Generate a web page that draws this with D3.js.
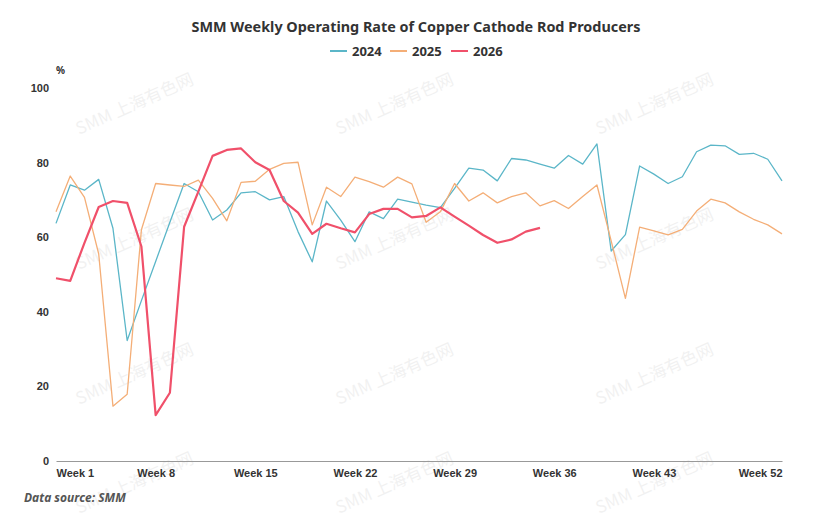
<!DOCTYPE html>
<html>
<head>
<meta charset="utf-8">
<script src="https://cdn.jsdelivr.net/npm/d3@7"></script>
<style>
  body { margin: 0; background: #fff; }
  svg { display: block; font-family: "Noto Sans", "Open Sans", sans-serif; }
  .axis-text { font-size: 11px; font-weight: bold; fill: #333; }
</style>
</head>
<body>
<svg id="chart" width="831" height="522"></svg>
<script>

////////////////////////// DATA //////////////////////////

const weeks = d3.range(1, 53)
const tickWeeks = [1, 8, 15, 22, 29, 36, 43, 52]
const yTicks = [0, 20, 40, 60, 80, 100]
const seriesNames = ['2024', '2025', '2026']

const values2024 = [63.7, 74, 72.6, 75.5, 62.4, 32.3, 43, 53.5, 64, 74.4,
  72.2, 64.6, 67.3, 71.9, 72.2, 70, 70.9, 61.5, 53.4, 69.7,
  64.6, 58.8, 66.8, 65, 70.2, 69.4, 68.6, 67.9, 73.1, 78.5,
  78, 75.1, 81.1, 80.7, 79.6, 78.5, 81.9, 79.6, 85, 56.3,
  60.7, 79.1, 76.9, 74.4, 76.2, 82.9, 84.7, 84.5, 82.2, 82.5,
  80.9, 75.1]

const values2025 = [66.8, 76.4, 70.7, 55.5, 14.7, 17.9, 62, 74.4, 74, 73.6,
  75.3, 70.4, 64.4, 74.7, 75, 78.2, 79.8, 80.1, 63.3, 73.4,
  70.9, 76.1, 74.9, 73.4, 76.1, 74.3, 64, 66.8, 74.4, 69.7,
  71.9, 69.2, 70.9, 71.9, 68.4, 69.8, 67.7, 70.9, 74, 59,
  43.6, 62.7, 61.7, 60.6, 62.1, 67, 70.2, 69.2, 66.8, 64.8,
  63.3, 60.9]

const values2026 = [49, 48.3, 58.5, 68.1, 69.7, 69.2, 57.5, 12.3, 18.3, 62.8,
  72.2, 81.8, 83.4, 83.8, 80.1, 78, 69.7, 66.6, 60.9, 63.6,
  62.4, 61.3, 66.2, 67.6, 67.6, 65.3, 65.7, 68, 65.5, 63.1,
  60.6, 58.5, 59.4, 61.5, 62.5]

const colors = { '2024': '#5bb6c8', '2025': '#f4ae77', '2026': '#f0506a' }
const strokeWidths = { '2024': 1.3, '2025': 1.3, '2026': 2.2 }

const series = [
  { name: '2024', values: values2024 },
  { name: '2025', values: values2025 },
  { name: '2026', values: values2026 }
]


////////////////////////// SETUP //////////////////////////

const svg = d3.select('#chart')
const plotLeft = 56, plotRight = 782, plotTop = 88, plotBottom = 461

const xScale = d3.scalePoint().domain(weeks).range([plotLeft, plotRight])
const yScale = d3.scaleLinear().domain([0, 100]).range([plotBottom, plotTop])

// watermark grid
const wmX = [135, 395, 655]
const wmY = [105, 240, 375, 484]
wmY.forEach((wy) => wmX.forEach((wx) => {
  svg.append('text')
    .attr('transform', `translate(${wx},${wy}) rotate(-24)`)
    .attr('text-anchor', 'middle')
    .attr('dominant-baseline', 'middle')
    .style('font-size', '17px')
    .style('font-family', '"Noto Sans CJK SC", "Noto Sans", sans-serif')
    .style('fill', '#000')
    .style('opacity', 0.05)
    .text('SMM 上海有色网')
}))


////////////////////////// TEXTS //////////////////////////

svg.append('text')
  .attr('x', 416)
  .attr('y', 32)
  .attr('text-anchor', 'middle')
  .style('font-size', '14.4px')
  .style('font-weight', 'bold')
  .style('fill', '#333')
  .text('SMM Weekly Operating Rate of Copper Cathode Rod Producers')

// legend
const legend = svg.append('g')
const legendX = [330, 390, 451]
seriesNames.forEach((name, i) => {
  const g = legend.append('g').attr('transform', `translate(${legendX[i]},51)`)
  g.append('line')
    .attr('x1', 0).attr('x2', 17)
    .attr('stroke', colors[name])
    .attr('stroke-width', 2)
  g.append('text')
    .attr('x', 22)
    .attr('dy', '0.35em')
    .style('font-size', '13px')
    .style('font-weight', 'bold')
    .style('fill', '#333')
    .text(name)
})

svg.append('text')
  .attr('x', 56).attr('y', 74)
  .style('font-size', '10px')
  .style('font-weight', 'bold')
  .style('fill', '#333')
  .text('%')

svg.append('text')
  .attr('x', 24).attr('y', 502)
  .style('font-size', '12px')
  .style('font-weight', 'bold')
  .style('font-style', 'italic')
  .style('fill', '#555')
  .text('Data source:  SMM')


////////////////////////// AXES //////////////////////////

// y axis labels, no line
const yAxis = svg.append('g')
  .attr('transform', `translate(${plotLeft - 7},0)`)
  .call(d3.axisLeft(yScale).tickValues(yTicks).tickSize(0).tickPadding(0))
yAxis.select('.domain').remove()
yAxis.selectAll('text').attr('class', 'axis-text').attr('x', 0)

// x axis
const xAxis = svg.append('g')
  .attr('transform', `translate(0,${plotBottom})`)
  .call(d3.axisBottom(xScale).tickValues(tickWeeks).tickSize(0).tickPadding(8)
    .tickFormat((d) => `Week ${d}`))
xAxis.select('.domain').attr('stroke', '#999')
xAxis.selectAll('text')
  .attr('class', 'axis-text')
  .attr('text-anchor', (d) => d === tickWeeks[0] ? 'start'
    : d === tickWeeks[tickWeeks.length - 1] ? 'end' : 'middle')


////////////////////////// LINES //////////////////////////

const line = d3.line()
  .x((d, i) => xScale(weeks[i]))
  .y((d) => yScale(d))

svg.selectAll('.series-line')
  .data(series)
  .enter()
  .append('path')
  .attr('class', 'series-line')
  .attr('d', (d) => line(d.values))
  .attr('fill', 'none')
  .attr('stroke', (d) => colors[d.name])
  .attr('stroke-width', (d) => strokeWidths[d.name])
  .attr('stroke-linejoin', 'round')

</script>
</body>
</html>
